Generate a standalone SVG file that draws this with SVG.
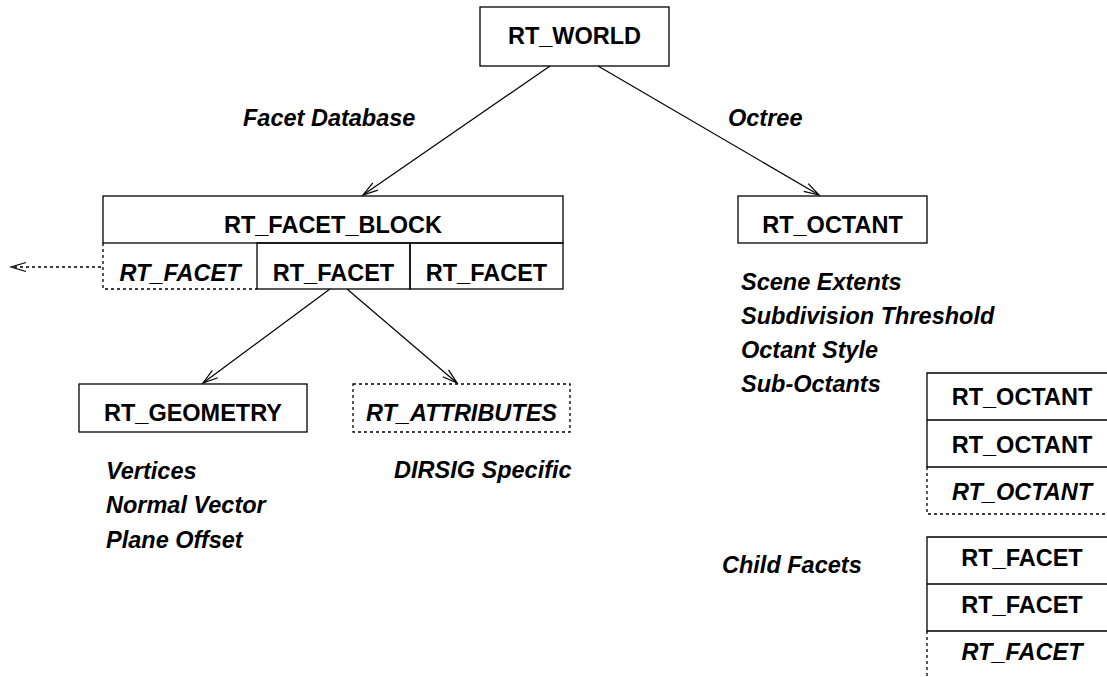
<svg xmlns="http://www.w3.org/2000/svg" width="1107" height="677" viewBox="0 0 1107 677">
<style>
.box{fill:none;stroke:#000;stroke-width:1.3}
.dash{fill:none;stroke:#000;stroke-width:1.3;stroke-dasharray:3,3}
.t{font-family:"Liberation Sans",Arial,sans-serif;font-weight:bold;font-size:23.5px;fill:#000}
.c{text-anchor:middle}
.i{font-style:italic}
.line{fill:none;stroke:#000;stroke-width:1.2}
</style>
<defs>
<marker id="arr" markerUnits="userSpaceOnUse" markerWidth="18" markerHeight="12" refX="16" refY="5.5" orient="auto">
<path d="M1,1 L16,5.5 L1,10" fill="none" stroke="#000" stroke-width="1.2"/>
</marker>
</defs>
<rect width="1107" height="677" fill="#fff"/>
<g id="connectors">
<line class="line" x1="550" y1="66" x2="363" y2="195" marker-end="url(#arr)"/>
<line class="line" x1="598" y1="66" x2="819" y2="195" marker-end="url(#arr)"/>
<line class="line" x1="330" y1="289" x2="203" y2="383" marker-end="url(#arr)"/>
<line class="line" x1="347" y1="289" x2="457" y2="383" marker-end="url(#arr)"/>
<line class="dash" x1="101" y1="267" x2="11" y2="267" marker-end="url(#arr)"/>
</g>
<g id="labels">
<text class="t i" x="243" y="126">Facet Database</text>
<text class="t i" x="728" y="126">Octree</text>
</g>
<g id="rt_world">
<rect class="box" x="480" y="7" width="189" height="59"/>
<text class="t c" x="574.5" y="44">RT_WORLD</text>
</g>
<g id="rt_facet_block">
<rect class="box" x="103" y="196" width="460" height="47"/>
<text class="t c" x="333" y="233">RT_FACET_BLOCK</text>
<path class="dash" d="M103,243 V289 H257"/>
<text class="t c i" x="180" y="281">RT_FACET</text>
<rect class="box" x="257" y="243" width="153" height="46"/>
<text class="t c" x="333.5" y="281">RT_FACET</text>
<rect class="box" x="410" y="243" width="153" height="46"/>
<text class="t c" x="486.5" y="281">RT_FACET</text>
</g>
<g id="rt_geometry">
<rect class="box" x="79" y="384" width="228" height="48"/>
<text class="t c" x="193" y="421">RT_GEOMETRY</text>
<text class="t i" x="106" y="479">Vertices</text>
<text class="t i" x="106" y="513">Normal Vector</text>
<text class="t i" x="106" y="548">Plane Offset</text>
</g>
<g id="rt_attributes">
<rect class="dash" x="353" y="384" width="217" height="48"/>
<text class="t c i" x="461.5" y="421">RT_ATTRIBUTES</text>
<text class="t i" x="394" y="478">DIRSIG Specific</text>
</g>
<g id="rt_octant">
<rect class="box" x="738" y="196" width="189" height="47"/>
<text class="t c" x="832.5" y="233">RT_OCTANT</text>
<text class="t i" x="741" y="290">Scene Extents</text>
<text class="t i" x="741" y="324">Subdivision Threshold</text>
<text class="t i" x="741" y="358">Octant Style</text>
<text class="t i" x="741" y="392">Sub-Octants</text>
<text class="t i" x="722" y="573">Child Facets</text>
</g>
<g id="sub_octants">
<path class="box" d="M1110,373 H927 V467 H1110 M927,420 H1110"/>
<path class="dash" d="M927,467 V514 H1110"/>
<text class="t c" x="1022" y="405">RT_OCTANT</text>
<text class="t c" x="1022" y="453">RT_OCTANT</text>
<text class="t c i" x="1022" y="500">RT_OCTANT</text>
</g>
<g id="child_facets">
<path class="box" d="M1110,537 H927 V631 H1110 M927,584 H1110"/>
<path class="dash" d="M927,631 V680"/>
<text class="t c" x="1022" y="566">RT_FACET</text>
<text class="t c" x="1022" y="613">RT_FACET</text>
<text class="t c i" x="1022" y="660">RT_FACET</text>
</g>
</svg>
